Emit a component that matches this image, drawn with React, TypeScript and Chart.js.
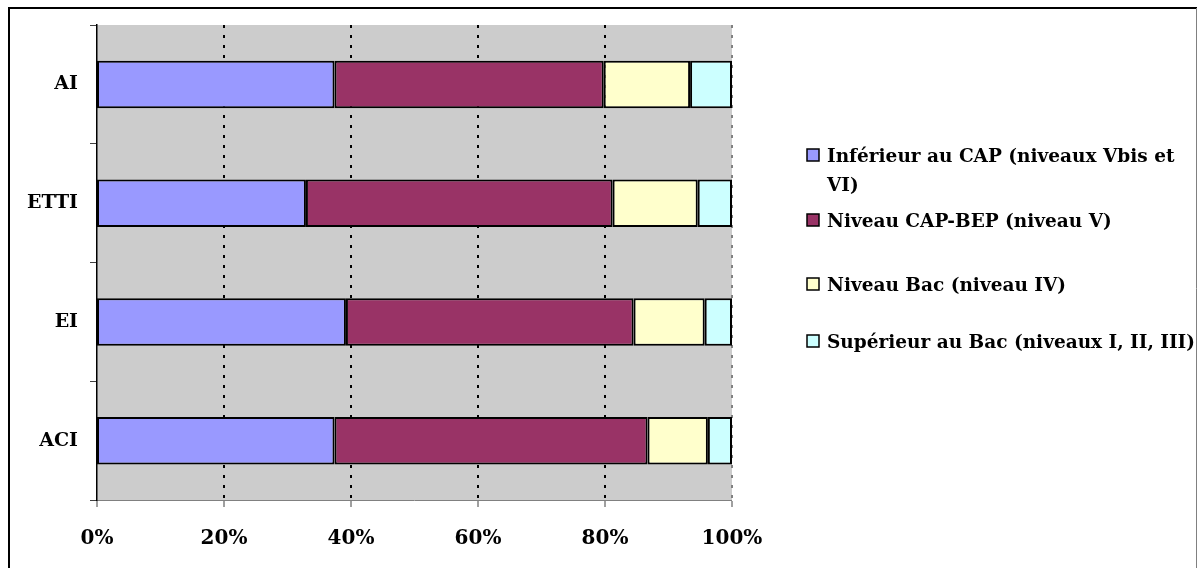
import React, { useEffect, useRef } from "react";
import { Chart, registerables } from "chart.js";

Chart.register(...registerables);

const categories = ["AI", "ETTI", "EI", "ACI"];
const inferieurCap = [37.4, 32.9, 39.2, 37.4];
const niveauCapBep = [42.4, 48.3, 45.3, 49.3];
const niveauBac = [13.6, 13.4, 11.2, 9.5];
const superieurBac = [6.6, 5.4, 4.3, 3.8];
const seriesLabels = [
  "Inférieur au CAP (niveaux Vbis et VI)",
  "Niveau CAP-BEP (niveau V)",
  "Niveau Bac (niveau IV)",
  "Supérieur au Bac (niveaux I, II, III)",
];
const legendLines = [
  ["Inférieur au CAP (niveaux Vbis et", "VI)"],
  ["Niveau CAP-BEP (niveau V)"],
  ["Niveau Bac (niveau IV)"],
  ["Supérieur au Bac (niveaux I, II, III)"],
];
const colors = ["#9999FF", "#993366", "#FFFFCC", "#CCFFFF"];
const xTickValues = [0, 20, 40, 60, 80, 100];

const FONT = "'DejaVu Serif', serif";

const bgPlugin = {
  id: "plotBg",
  beforeDraw(chart: any) {
    const { ctx, chartArea } = chart;
    ctx.save();
    ctx.fillStyle = "#CCCCCC";
    ctx.fillRect(chartArea.left, chartArea.top, chartArea.right - chartArea.left, chartArea.bottom - chartArea.top);
    ctx.restore();
  },
};

const framePlugin = {
  id: "frameLegend",
  afterDraw(chart: any) {
    const { ctx } = chart;
    ctx.save();
    // frame
    ctx.strokeStyle = "#000";
    ctx.lineWidth = 2;
    ctx.beginPath();
    ctx.moveTo(9, 570);
    ctx.lineTo(9, 8);
    ctx.lineTo(1197, 8);
    ctx.stroke();
    ctx.strokeStyle = "#808080";
    ctx.lineWidth = 1;
    ctx.beginPath();
    ctx.moveTo(1196.5, 8);
    ctx.lineTo(1196.5, 570);
    ctx.stroke();
    // legend
    const boxX = 807;
    const textX = 827;
    const baselines = [162, 227, 291, 348];
    ctx.font = `bold 18.5px ${FONT}`;
    ctx.textBaseline = "alphabetic";
    ctx.textAlign = "left";
    legendLines.forEach((lines, i) => {
      const b = baselines[i];
      ctx.fillStyle = colors[i];
      ctx.fillRect(boxX, b - 13, 12, 12);
      ctx.strokeStyle = "#000";
      ctx.lineWidth = 1.5;
      ctx.strokeRect(boxX, b - 13, 12, 12);
      ctx.fillStyle = "#000";
      lines.forEach((ln, j) => {
        ctx.fillText(ln, textX, b + j * 29);
      });
    });
    ctx.restore();
  },
};

export default function App() {
  const ref = useRef<HTMLCanvasElement>(null);
  useEffect(() => {
    if (!ref.current) return;
    const series = [inferieurCap, niveauCapBep, niveauBac, superieurBac];
    const chart = new Chart(ref.current, {
      type: "bar",
      data: {
        labels: categories,
        datasets: series.map((d, i) => ({
          label: seriesLabels[i],
          data: d,
          backgroundColor: colors[i],
          borderColor: "#000",
          borderWidth: 2,
          borderSkipped: false,
          barPercentage: 0.4,
          categoryPercentage: 1,
        })),
      },
      options: {
        indexAxis: "y",
        responsive: false,
        animation: false,
        devicePixelRatio: 1,
        layout: { padding: { left: 0, top: 25, right: 466, bottom: 0 } },
        plugins: { legend: { display: false }, tooltip: { enabled: false } },
        scales: {
          x: {
            stacked: true,
            min: 0,
            max: 100,
            afterBuildTicks: (s: any) => {
              s.ticks = xTickValues.map((v) => ({ value: v }));
            },
            afterFit: (s: any) => {
              s.height = 68;
            },
            ticks: {
              callback: (v: any) => v + "%",
              color: "#000",
              font: { family: FONT, size: 20, weight: "bold" },
              padding: 20,
              maxRotation: 0,
            },
            grid: {
              display: true,
              drawOnChartArea: true,
              drawTicks: true,
              tickLength: 7,
              lineWidth: (c: any) => (c.index === 0 ? 0 : 2),
              color: (c: any) => (c.tick && c.tick.value === 100 ? "#808080" : "#000"),
              tickColor: "#404040",
              tickWidth: 1,
            },
            border: { display: true, color: "#808080", width: 1, dash: [3, 7] },
          },
          y: {
            stacked: true,
            afterFit: (s: any) => {
              s.width = 97;
            },
            ticks: {
              color: "#000",
              font: { family: FONT, size: 19, weight: "bold" },
              padding: 12,
            },
            grid: {
              offset: true,
              drawOnChartArea: false,
              drawTicks: true,
              tickLength: 7,
              tickColor: "#404040",
              tickWidth: 1,
            },
            border: { display: true, color: "#000", width: 1.5 },
          },
        },
      },
      plugins: [bgPlugin, framePlugin],
    });
    return () => chart.destroy();
  }, []);
  return (
    <div style={{ position: "absolute", left: 0, top: 0, width: 1198, height: 568, background: "#fff" }}>
      <canvas ref={ref} width={1198} height={568} style={{ display: "block" }} />
    </div>
  );
}
